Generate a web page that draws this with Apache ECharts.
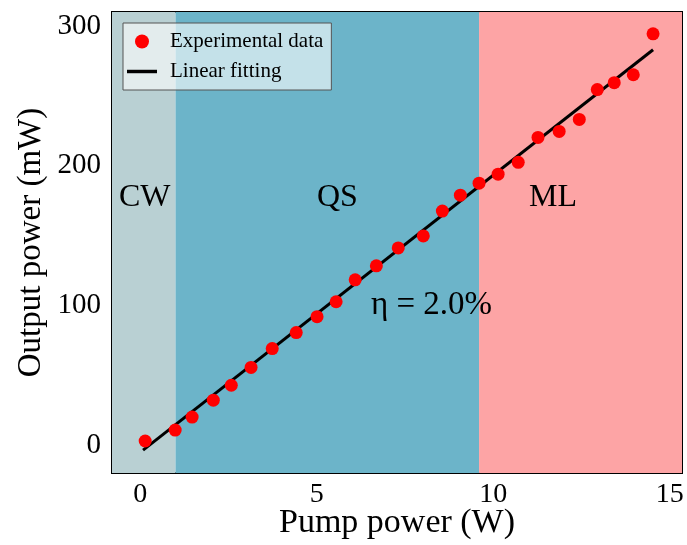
<!DOCTYPE html>
<html>
<head>
<meta charset="utf-8">
<script src="https://cdn.jsdelivr.net/npm/echarts@6/dist/echarts.min.js"></script>
<style>
  html, body { margin: 0; padding: 0; background: #fff; }
  #chart { width: 687px; height: 545px; }
</style>
</head>
<body>
<div id="chart"></div>
<script>
// pump power (W) / output power (mW)
const pumpPower = [0.14, 0.99, 1.47, 2.07, 2.58, 3.14, 3.74, 4.42, 5.01, 5.55, 6.09, 6.69, 7.31,
  8.02, 8.56, 9.07, 9.6, 10.14, 10.71, 11.27, 11.87, 12.44, 12.95, 13.43, 13.97, 14.53]
const outputPower = [2.9, 10.7, 20, 32.1, 42.8, 55.6, 69.1, 80.5, 91.9, 102.6, 118.3, 128.3, 141.1,
  149.7, 167.5, 178.9, 187.5, 193.9, 202.4, 220.2, 224.5, 233.1, 254.5, 259.4, 265.1, 294.4]
// linear fit end points
const fitX = [0.08, 14.53]
const fitY = [-3.6, 283]
// operating regimes: [name, from, to]
const regimes = [['CW', -0.8, 1.0], ['QS', 1.0, 9.6], ['ML', 9.6, 15.35]]
const regimeColors = ['#b9d0d3', '#6cb4c9', '#fda4a5']
const xTicks = [0, 5, 10, 15]
const yTicks = [0, 100, 200, 300]

const font = 'Liberation Serif, Times New Roman, serif'
const chart = echarts.init(document.getElementById('chart'))

chart.setOption({
  backgroundColor: '#fff',
  animation: false,
  grid: {
    left: 112, right: 5, top: 12, bottom: 72,
    outerBoundsMode: 'none',
    show: true,
    borderColor: '#000',
    borderWidth: 2,
    backgroundColor: 'transparent'
  },
  xAxis: {
    type: 'value',
    min: -0.8,
    max: 15.35,
    name: 'Pump power (W)',
    nameLocation: 'middle',
    nameGap: 33,
    nameMoveOverlap: false,
    nameTextStyle: { fontFamily: font, fontSize: 34, color: '#000' },
    axisLine: { show: false },
    splitLine: { show: false },
    axisTick: { show: true, inside: true, length: 6, customValues: xTicks, lineStyle: { color: '#000', width: 1.5 } },
    axisLabel: { customValues: xTicks, fontFamily: font, fontSize: 28, color: '#000', margin: 8 }
  },
  yAxis: {
    type: 'value',
    min: -20,
    max: 310,
    name: 'Output power (mW)',
    nameLocation: 'middle',
    nameGap: 64,
    nameMoveOverlap: false,
    nameTextStyle: { fontFamily: font, fontSize: 33, color: '#000' },
    axisLine: { show: false },
    splitLine: { show: false },
    axisTick: { show: true, inside: true, length: 6, customValues: yTicks, lineStyle: { color: '#000', width: 1.5 } },
    axisLabel: { customValues: yTicks, fontFamily: font, fontSize: 29, color: '#000', margin: 11 }
  },
  legend: {
    orient: 'vertical',
    left: 123,
    top: 23,
    padding: [8, 8, 8, 4],
    itemGap: 9,
    itemWidth: 30,
    itemHeight: 14,
    backgroundColor: 'rgba(255,255,255,0.6)',
    borderColor: '#555',
    borderWidth: 1,
    borderRadius: 0,
    textStyle: { fontFamily: font, fontSize: 21, color: '#000', padding: [0, 0, 0, 8] },
    data: [
      { name: 'Experimental data', icon: 'circle' },
      { name: 'Linear fitting', icon: 'path://M0,0H26V3H0Z' }
    ]
  },
  graphic: [
    { type: 'text', left: 119, top: 182, style: { text: 'CW', font: '32px ' + font, fill: '#000' }, z: 100 },
    { type: 'text', left: 317, top: 182, style: { text: 'QS', font: '32px ' + font, fill: '#000' }, z: 100 },
    { type: 'text', left: 529, top: 182, style: { text: 'ML', font: '32px ' + font, fill: '#000' }, z: 100 },
    { type: 'text', left: 371, top: 289, style: { text: 'η = 2.0%', font: '33px ' + font, fill: '#000' }, z: 100 }
  ],
  series: [
    {
      name: 'regions',
      type: 'scatter',
      data: [],
      z: 0,
      silent: true,
      markArea: {
        silent: true,
        data: regimes.map((r, i) => [
          { xAxis: r[1], itemStyle: { color: regimeColors[i], opacity: 1 } },
          { xAxis: r[2] }
        ])
      }
    },
    {
      name: 'Linear fitting',
      type: 'line',
      data: fitX.map((x, i) => [x, fitY[i]]),
      symbol: 'none',
      z: 3,
      lineStyle: { color: '#000', width: 3 },
      itemStyle: { color: '#000' }
    },
    {
      name: 'Experimental data',
      type: 'scatter',
      data: pumpPower.map((x, i) => [x, outputPower[i]]),
      symbolSize: 13,
      z: 4,
      itemStyle: { color: '#ff0000', opacity: 1 }
    }
  ]
})
</script>
</body>
</html>
